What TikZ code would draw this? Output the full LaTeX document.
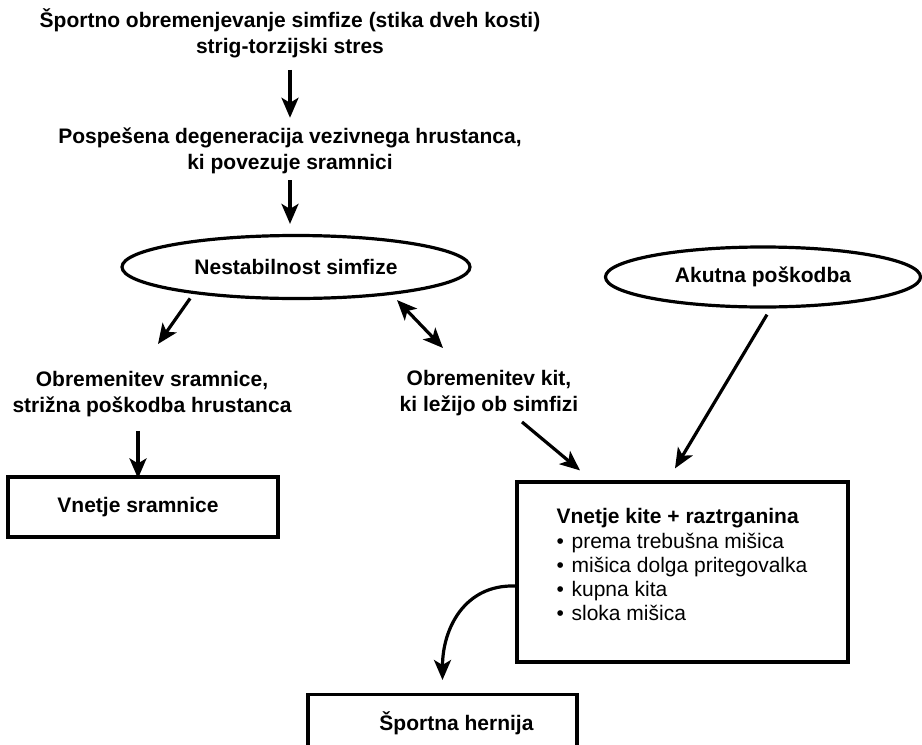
\documentclass[tikz,border=0pt]{standalone}
\usepackage{fontspec}
\setmainfont{Liberation Sans}
\usetikzlibrary{shapes.geometric,arrows.meta}
\begin{document}
\begin{tikzpicture}[x=1pt,y=-1pt,
  head/.tip={Stealth[length=20pt,width=17pt,inset=5pt]},
  arr/.style={line width=3.2pt,-head},
  darr/.style={line width=3.2pt,head-head},
  txt/.style={font=\bfseries\fontsize{21}{26}\selectfont, align=center, inner sep=0pt},
  oval/.style={ellipse, draw, line width=3.2pt, inner sep=0pt},
  box/.style={rectangle, draw, line width=3.2pt, inner sep=0pt}]
\useasboundingbox (0,0) rectangle (922,745);
\fill[white] (0,0) rectangle (922,745);

\node[txt] (t1) at (290,33) {Športno obremenjevanje simfize (stika dveh kosti)\\strig-torzijski stres};
\node[txt] (t2) at (290,151) {Pospešena degeneracija vezivnega hrustanca,\\ki povezuje sramnici};
\node[oval, txt, minimum width=348pt, minimum height=63pt] (nest) at (296,267) {Nestabilnost simfize};
\node[oval, txt, minimum width=315pt, minimum height=60pt] (ak) at (763,277) {Akutna poškodba};
\node[txt] (t3) at (152,394) {Obremenitev sramnice,\\strižna poškodba hrustanca};
\node[txt] (t4) at (489,393) {Obremenitev kit,\\ki ležijo ob simfizi};
\node[box, txt, minimum width=270pt, minimum height=60pt] (vs) at (143,507) {\hspace{-10pt}Vnetje sramnice};
\node[box, minimum width=331pt, minimum height=180pt] (vk) at (682.5,572) {};
\node[anchor=north west, inner sep=0pt, align=left, font=\fontsize{21}{23.9}\selectfont] (vkt)
  at ([xshift=41pt,yshift=-27.5pt]vk.north west)
  {{\bfseries Vnetje kite + raztrganina}\\[1.3pt]
   \makebox[15pt][l]{•}prema trebušna mišica\\
   \makebox[15pt][l]{•}mišica dolga pritegovalka\\
   \makebox[15pt][l]{•}kupna kita\\
   \makebox[15pt][l]{•}sloka mišica};
\node[box, txt, minimum width=269pt, minimum height=58pt, anchor=north] (hern) at (442.5,693) {\hspace{28pt}Športna hernija};

\draw[arr] ([yshift=-12pt]t1.south) -- ([yshift=10pt]t2.north);
\draw[arr] ([yshift=-6pt]t2.south) -- ([yshift=10pt]t2.south |- nest.north);
\draw[arr] ([yshift=-5pt]nest.194) -- ([xshift=6pt,yshift=27pt]t3.north);
\draw[darr] ([yshift=-6pt]nest.345) -- ([xshift=-46pt,yshift=22pt]t4.north);
\draw[arr] ([xshift=33pt,yshift=-6pt]t4.south) -- ([xshift=-102.5pt,yshift=10pt]vk.north);
\draw[arr] ([xshift=4pt,yshift=-6pt]ak.south) -- ([xshift=-7.5pt,yshift=12pt]vk.north);
\draw[arr] ([xshift=-14pt,yshift=-14pt]t3.south) -- ([xshift=-5pt,yshift=-3pt]vs.north);
\draw[arr] ([yshift=-14pt]vk.west) to[out=178,in=90,looseness=1.1] ([yshift=13pt]hern.north);
\end{tikzpicture}
\end{document}
